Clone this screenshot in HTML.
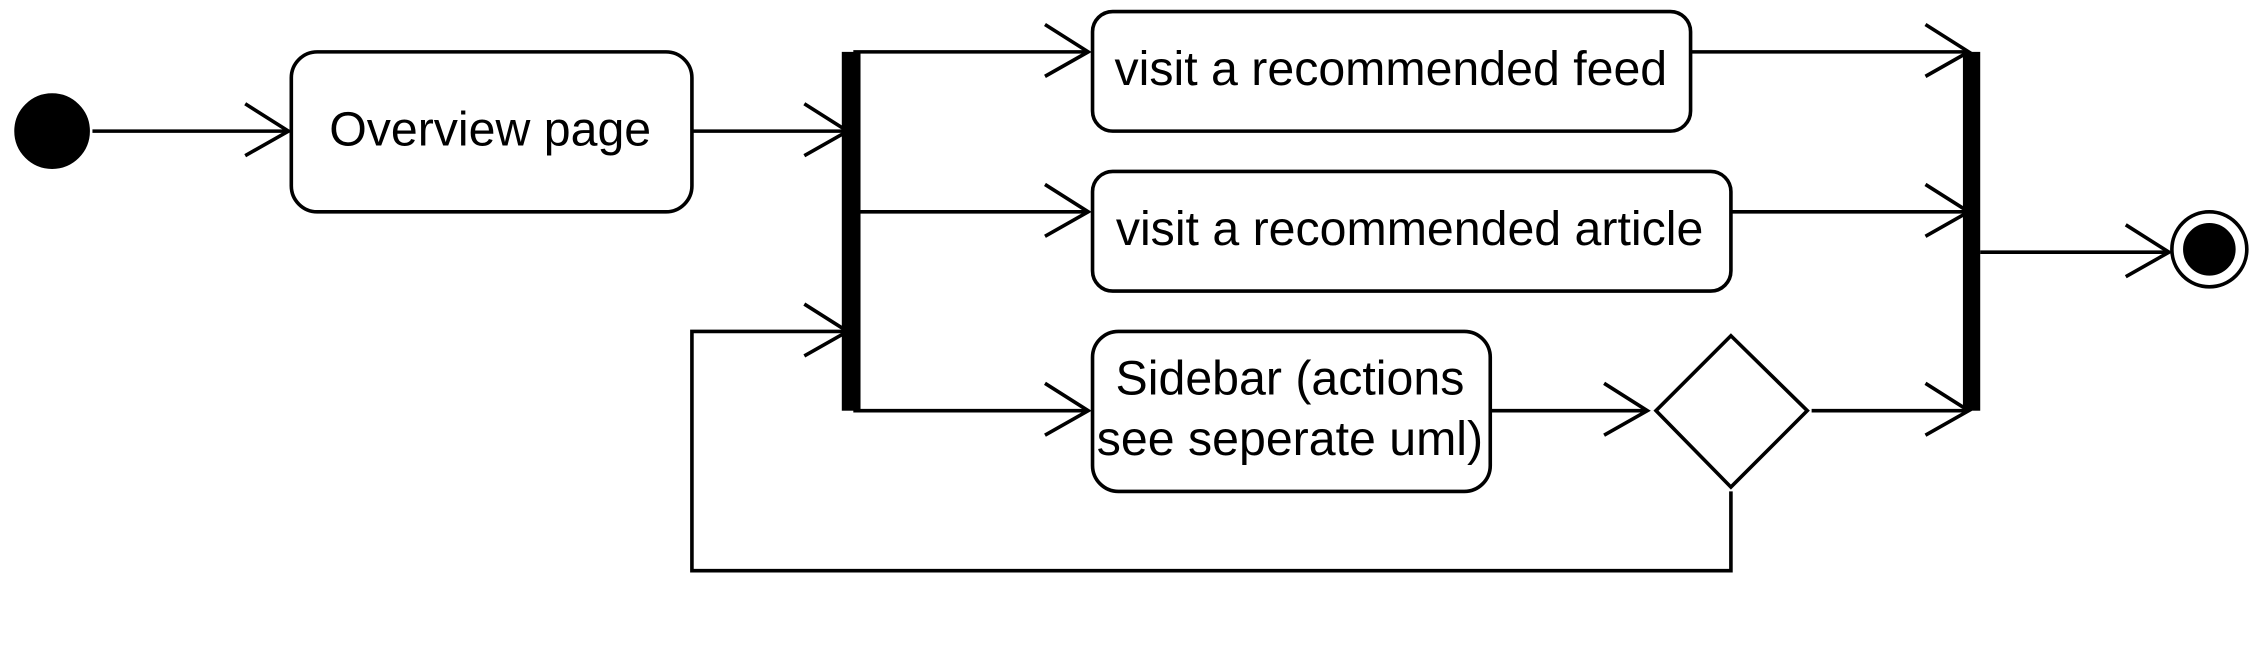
<!DOCTYPE html>
<html><head><meta charset="utf-8"><style>
html,body{margin:0;padding:0;background:#fff;}
svg{display:block;}
text{font-family:"Liberation Sans",sans-serif;font-size:33.5px;fill:#000;text-anchor:middle;dominant-baseline:middle;}
</style></head><body>
<svg width="2260" height="660" viewBox="0 0 1568 458" xmlns="http://www.w3.org/2000/svg">
<g fill="none" stroke="#000" stroke-width="2.5">
<circle cx="36" cy="91" r="25" fill="#000"/>
<line x1="64" y1="91" x2="200" y2="91"/><polyline points="170,72 200,91 170,108"/>
<rect x="202" y="36" width="278" height="111" rx="18"/>
<line x1="480" y1="91" x2="588" y2="91"/><polyline points="558,72 588,91 558,108"/>
<line x1="592" y1="36" x2="755" y2="36"/><polyline points="725,17 755,36 725,53"/>
<line x1="592" y1="147" x2="755" y2="147"/><polyline points="725,128 755,147 725,164"/>
<line x1="592" y1="285" x2="755" y2="285"/><polyline points="725,266 755,285 725,302"/>
<rect x="758" y="8" width="415" height="83" rx="14"/>
<rect x="758" y="119" width="443" height="83" rx="14"/>
<rect x="758" y="230" width="276" height="111" rx="18"/>
<line x1="1034" y1="285" x2="1143" y2="285"/><polyline points="1113,266 1143,285 1113,302"/>
<polygon points="1201,233 1254,285 1201,338 1149,285"/>
<line x1="1257" y1="285" x2="1366" y2="285"/><polyline points="1336,266 1366,285 1336,302"/>
<line x1="1173" y1="36" x2="1366" y2="36"/><polyline points="1336,17 1366,36 1336,53"/>
<line x1="1201" y1="147" x2="1366" y2="147"/><polyline points="1336,128 1366,147 1336,164"/>
<line x1="1374" y1="175" x2="1505" y2="175"/><polyline points="1475,156 1505,175 1475,192"/>
<circle cx="1533" cy="173" r="26"/>
<circle cx="1533" cy="173" r="17" fill="#000"/>
<polyline points="1201,341 1201,396 480,396 480,230 588,230"/><polyline points="558,211 588,230 558,247"/>
</g>
<rect x="584" y="36" width="13" height="249" fill="#000"/>
<rect x="1362" y="36" width="12" height="249" fill="#000"/>
<text x="340" y="92">Overview page</text>
<text x="965" y="50">visit a recommended feed</text>
<text x="978" y="161">visit a recommended article</text>
<text x="895" y="265">Sidebar (actions</text>
<text x="895" y="307">see seperate uml)</text>
</svg>
</body></html>
